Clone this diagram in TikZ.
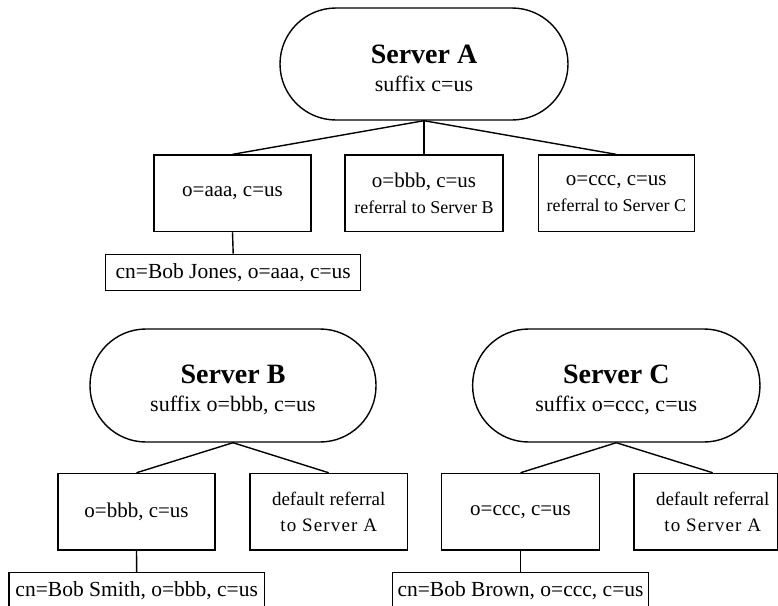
\documentclass[tikz,border=0pt]{standalone}
\usepackage{fontspec}
\setmainfont{Liberation Serif}
\newfontfamily\spacedfont[LetterSpace=6]{Liberation Serif}
\begin{document}
\begin{tikzpicture}[x=1pt,y=-1pt,
  server/.style={draw,line width=1.4pt,rectangle,rounded corners=56pt,minimum width=288pt,minimum height=112pt,align=center,inner sep=0pt,font=\fontsize{22}{28}\selectfont},
  entry/.style={draw,line width=1.4pt,rectangle,minimum height=76.5pt,inner sep=0pt,align=center,font=\fontsize{21}{26}\selectfont},
  leaf/.style={draw,line width=1.4pt,rectangle,minimum height=36.5pt,inner sep=0pt,align=center,font=\fontsize{21.5}{26}\selectfont},
  conn/.style={line width=1.4pt}
]
\clip (0,0) rectangle (778,605);
\path[use as bounding box] (0,0) rectangle (778,605);

% Server A
\node[server] (sA) at (424,64) {\rule{0pt}{27pt}{\bfseries\fontsize{28}{28}\selectfont Server A}\\suffix c=us};
\node[entry,minimum width=157pt] (a1) at (232.5,193.3) {o=aaa, c=us};
\node[entry,minimum width=157.7pt] (a2) at (424,193.3) {o=bbb, c=us\\{\fontsize{18}{26}\selectfont referral to Server B}};
\node[entry,minimum width=156pt] (a3) at (616.3,193.3) {o=ccc, c=us\\{\fontsize{18}{26}\selectfont referral to Server C}};
\node[leaf,minimum width=255pt] (a11) at (233.2,272.5) {cn=Bob Jones, o=aaa, c=us};
\draw[conn] (sA.south) -- (a1.north);
\draw[conn] (sA.south) -- (a2.north);
\draw[conn] (sA.south) -- (a3.north);
\draw[conn] (a1.south) -- (a11.north);

% Server B
\node[server,minimum width=286pt,minimum height=113pt] (sB) at (233,385.5) {\rule{0pt}{27pt}{\bfseries\fontsize{28}{28}\selectfont Server B}\\suffix o=bbb, c=us};
\node[entry,minimum width=157pt] (b1) at (136.5,511.7) {o=bbb, c=us};
\node[entry,minimum width=157.3pt,font=\fontsize{19}{26.5}\selectfont] (b2) at (328.7,511.7) {default referral\\{\spacedfont to Server A}};
\node[leaf,minimum width=255.3pt] (b11) at (136.7,591) {cn=Bob Smith, o=bbb, c=us};
\draw[conn] (sB.south) -- (b1.north);
\draw[conn] (sB.south) -- (b2.north);
\draw[conn] (b1.south) -- (b11.north);

% Server C
\node[server,minimum width=287.3pt,minimum height=113pt] (sC) at (616.3,385.5) {\rule{0pt}{27pt}{\bfseries\fontsize{28}{28}\selectfont Server C}\\suffix o=ccc, c=us};
\node[entry,minimum width=157.6pt] (c1) at (520.5,511.7) {o=ccc, c=us};
\node[entry,minimum width=143.3pt] (c2) at (705.7,511.7) {};
\node[font=\fontsize{19}{26.5}\selectfont,align=center,inner sep=0pt] (c2t) at (712.7,511.7) {default referral\\{\spacedfont to Server A}};
\node[leaf,minimum width=255.6pt] (c11) at (520.5,591) {cn=Bob Brown, o=ccc, c=us};
\draw[conn] (sC.south) -- (c1.north);
\draw[conn] (sC.south) -- (c2t |- c2.north);
\draw[conn] (c1.south) -- (c11.north);
\end{tikzpicture}
\end{document}
